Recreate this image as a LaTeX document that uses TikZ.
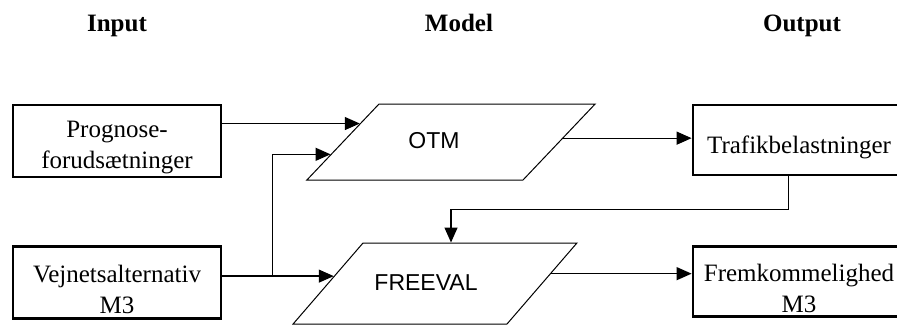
\documentclass[tikz,border=0pt]{standalone}
\usepackage{fontspec}
\setmainfont{Liberation Serif}
\setsansfont{Liberation Sans}
\usetikzlibrary{calc,positioning,shapes.geometric,arrows.meta}

\begin{document}
\begin{tikzpicture}[x=1pt,y=-1pt,
    inbox/.style={draw,line width=2.8pt,minimum width=208pt,minimum height=72pt,inner sep=0pt},
    boxtext/.style={font=\fontsize{25}{31}\selectfont,align=center,yshift=-7pt},
    model/.style={trapezium,draw,line width=1pt,inner sep=0pt,text width=144pt,text depth=0pt},
    modeltext/.style={font=\sffamily\fontsize{23}{27}\selectfont,yshift=1pt},
    head/.style={font=\bfseries\fontsize{25}{30}\selectfont,anchor=base},
    flow/.style={line width=1.3pt,-{Triangle[length=15pt,width=13pt]}}]
  \useasboundingbox (0,0) rectangle (897,325);

  \node[head] (input) at (117,31) {Input};
  \node[head] (model) at (459,31) {Model};
  \node[head] (output) at (802,31) {Output};

  \node[inbox,label={[boxtext]center:Prognose-\\forudsætninger}] (progn) at (117,141) {};
  \node[inbox,below=67pt of progn,label={[boxtext]center:Vejnetsalternativ\\M3}] (vejnet) {};
  \node[model,trapezium left angle=46.5,trapezium right angle=133.5,text height=76pt,
    label={[modeltext,xshift=-17pt]center:OTM}] (otm) at (451,142) {};
  \node[model,trapezium left angle=49.2,trapezium right angle=130.8,text height=81pt,
    label={[modeltext,xshift=-9pt]center:FREEVAL}] (freeval) at (435,283.5) {};
  \node[inbox,minimum width=212pt,minimum height=70pt,label={[boxtext]center:Trafikbelastninger}] (traf) at (799,140) {};
  \node[inbox,minimum width=212pt,minimum height=70pt,below=69pt of traf,
    label={[boxtext]center:Fremkommelighed\\M3}] (frem) {};

  \coordinate (p1) at ($(otm.bottom left corner)!0.74!(otm.top left corner)$);
  \coordinate (p2) at ($(otm.bottom left corner)!0.34!(otm.top left corner)$);
  \coordinate (p3) at ($(freeval.bottom left corner)!0.59!(freeval.top left corner)$);
  \coordinate (split) at ($(vejnet.east |- p3)!0.45!(p3)$);
  \coordinate (q1) at ($(otm.bottom right corner)!0.55!(otm.top right corner)$);
  \coordinate (q2) at ($(freeval.bottom right corner)!0.62!(freeval.top right corner)$);
  \coordinate (t1) at ($(traf.south west)!0.45!(traf.south east)$);
  \coordinate (t2) at ($(freeval.top left corner)!0.41!(freeval.top right corner)$);

  \draw[flow] (progn.east |- p1) -- (p1);
  \draw[flow] (vejnet.east |- p3) -- (p3);
  \draw[flow] (split) |- (p2);
  \draw[flow] (q1) -- (q1 -| traf.west);
  \draw[flow] (q2) -- (q2 -| frem.west);
  \draw[flow] (t1) |- ($(t1)!0.5!(t2)$) -| (t2);
\end{tikzpicture}
\end{document}
